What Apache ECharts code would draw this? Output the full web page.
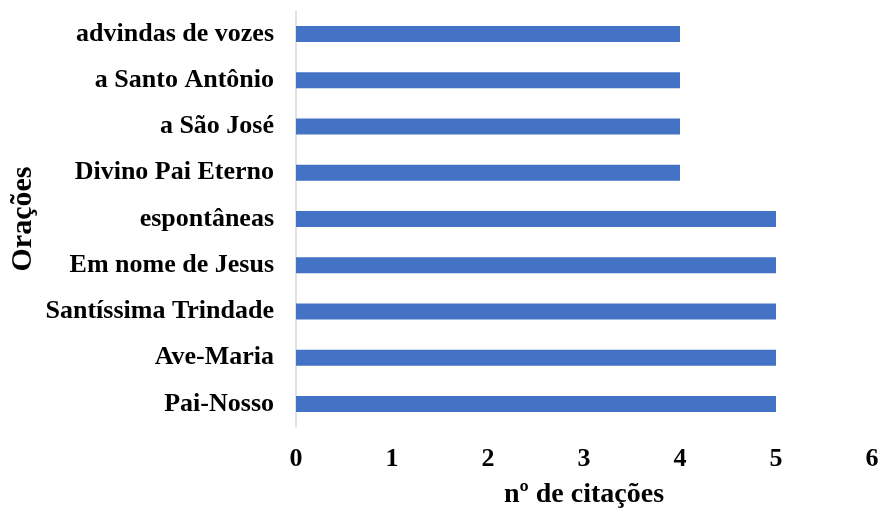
<!DOCTYPE html>
<html><head><meta charset="utf-8">
<script src="https://cdn.jsdelivr.net/npm/echarts@6/dist/echarts.min.js"></script>
<style>html,body{margin:0;padding:0;background:#fff}#c{width:880px;height:510px}</style>
</head><body><div id="c"></div>
<script>
const categories = ["Pai-Nosso","Ave-Maria","Santíssima Trindade","Em nome de Jesus","espontâneas","Divino Pai Eterno","a São José","a Santo Antônio","advindas de vozes"];
const values = [5,5,5,5,5,4,4,4,4];
const xTicks = [0,1,2,3,4,5,6];
const xTitle = "nº de citações";
const yTitle = "Orações";
const font = "'Liberation Serif','Times New Roman',serif";
const chart = echarts.init(document.getElementById('c'));
chart.setOption({
  animation:false,
  grid:{left:296,right:8,top:11,bottom:83,containLabel:false,outerBoundsMode:'none'},
  xAxis:{type:'value',min:xTicks[0],max:xTicks[xTicks.length-1],interval:1,
    name:xTitle,nameLocation:'middle',nameGap:54,nameMoveOverlap:false,
    nameTextStyle:{fontFamily:font,fontWeight:'bold',fontSize:28,color:'#000'},
    axisLine:{show:false},axisTick:{show:false},splitLine:{show:false},
    axisLabel:{fontFamily:font,fontWeight:'bold',fontSize:26,color:'#000',margin:19}},
  yAxis:{type:'category',data:categories,
    name:yTitle,nameLocation:'middle',nameGap:258,nameRotate:90,nameMoveOverlap:false,
    nameTextStyle:{fontFamily:font,fontWeight:'bold',fontSize:30,color:'#000'},
    axisLine:{show:true,lineStyle:{color:'#d9d9d9',width:1.5}},axisTick:{show:false},
    axisLabel:{fontFamily:font,fontWeight:'bold',fontSize:26,color:'#000',margin:22}},
  series:[{type:'bar',data:values,barWidth:16,itemStyle:{color:'#4472C4'}}]
});
</script></body></html>
